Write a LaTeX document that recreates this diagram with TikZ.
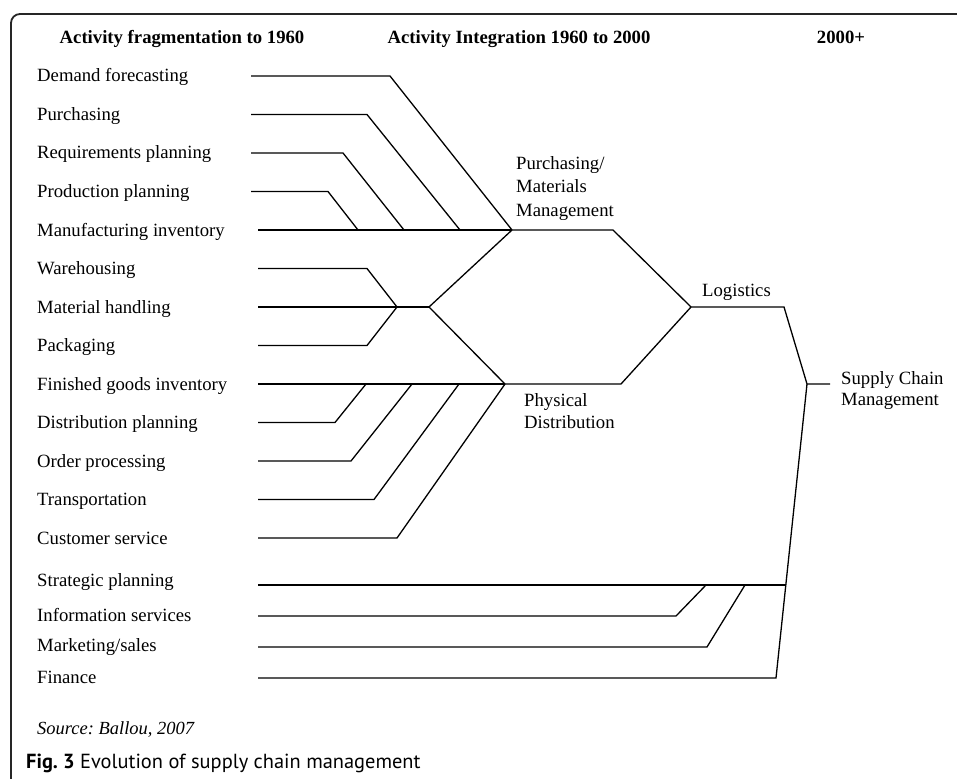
\documentclass[tikz,border=0pt]{standalone}
\usepackage{fontspec}
\setmainfont{Liberation Serif}
\newfontfamily\capfont{PT Sans}
\frenchspacing
\tikzset{
  lbl/.style={anchor=base west, inner sep=0pt, font=\fontsize{18.7}{22}\selectfont},
  hdr/.style={anchor=base, inner sep=0pt, font=\fontsize{18.7}{22}\selectfont\bfseries},
  ln/.style={line width=1.3pt, line join=miter},
  frm/.style={line width=1.8pt, draw=black!85, rounded corners=9pt},
}
\begin{document}
\begin{tikzpicture}[x=1pt,y=-1pt]
\useasboundingbox (0,0) rectangle (957,778);
% frame
\draw[frm] (11,782) -- (11,14) -- (975,14);

% headers
\node[hdr] (h1) at (182,44) {Activity fragmentation to 1960};
\node[hdr] (h2) at (519,44) {Activity Integration 1960 to 2000};
\node[hdr] (h3) at (841,44) {2000+};

% left labels
\node[lbl] (l1)  at (37,82)    {Demand forecasting};
\node[lbl] (l2)  at (37,120.5) {Purchasing};
\node[lbl] (l3)  at (37,159)   {Requirements planning};
\node[lbl] (l4)  at (37,197.5) {Production planning};
\node[lbl] (l5)  at (37,236)   {Manufacturing inventory};
\node[lbl] (l6)  at (37,274.5) {Warehousing};
\node[lbl] (l7)  at (37,313)   {Material handling};
\node[lbl] (l8)  at (37,351.5) {Packaging};
\node[lbl] (l9)  at (37,390)   {Finished goods inventory};
\node[lbl] (l10) at (37,428.5) {Distribution planning};
\node[lbl] (l11) at (37,467)   {Order processing};
\node[lbl] (l12) at (37,505.5) {Transportation};
\node[lbl] (l13) at (37,544)   {Customer service};
\node[lbl] (l14) at (37,586)   {Strategic planning};
\node[lbl] (l15) at (37,621)   {Information services};
\node[lbl] (l16) at (37,651)   {Marketing/sales};
\node[lbl] (l17) at (37,683)   {Finance};

% stage labels
\node[lbl] (pm1) at (516,170) {Purchasing/};
\node[lbl] (pm2) at (516,193) {Materials};
\node[lbl] (pm3) at (516,216) {Management};
\node[lbl] (pd1) at (524,406) {Physical};
\node[lbl] (pd2) at (524,428) {Distribution};
\node[lbl] (lg)  at (702,296) {Logistics};
\node[lbl] (sc1) at (841,384) {Supply Chain};
\node[lbl] (sc2) at (841,405) {Management};

% junctions
\coordinate (PM)   at (512,230);
\coordinate (PMR)  at (613,230);
\coordinate (WH)   at (397,307);
\coordinate (PMid) at (429,307);
\coordinate (PD)   at (505,384);
\coordinate (PDR)  at (621,384);
\coordinate (LG)   at (691,307);
\coordinate (LGR)  at (784,307);
\coordinate (SC)   at (807,384);
\coordinate (SCR)  at (830,384);
\coordinate (FB)   at (776,678);
\coordinate (ST)   at (785.5,585);

% start points
\coordinate (s1)  at (251,76);
\coordinate (s2)  at (251,114.5);
\coordinate (s3)  at (251,153);
\coordinate (s4)  at (251,191.5);
\coordinate (s5)  at (258,230);
\coordinate (s6)  at (258,268.5);
\coordinate (s7)  at (258,307);
\coordinate (s8)  at (258,345.5);
\coordinate (s9)  at (258,384);
\coordinate (s10) at (258,422.5);
\coordinate (s11) at (258,461);
\coordinate (s12) at (258,499.5);
\coordinate (s13) at (258,538);
\coordinate (s14) at (258,585);
\coordinate (s15) at (258,616);
\coordinate (s16) at (258,647);
\coordinate (s17) at (258,678);

% bends
\coordinate (b1)  at (390,76);
\coordinate (b2)  at (367,114.5);
\coordinate (b3)  at (343,153);
\coordinate (b4)  at (328,191.5);
\coordinate (j2)  at (460,230);
\coordinate (j3)  at (404,230);
\coordinate (j4)  at (358,230);
\coordinate (b6)  at (367,268.5);
\coordinate (b8)  at (367,345.5);
\coordinate (b10) at (335,422.5);
\coordinate (b11) at (351,461);
\coordinate (b12) at (374,499.5);
\coordinate (b13) at (397,538);
\coordinate (j10) at (366,384);
\coordinate (j11) at (412,384);
\coordinate (j12) at (459,384);
\coordinate (b15) at (676,616);
\coordinate (b16) at (707,647);
\coordinate (j15) at (706,585);
\coordinate (j16) at (745,585);

% purchasing / materials management group
\draw[ln] (s1) -- (b1) -- (PM);
\draw[ln] (s2) -- (b2) -- (j2);
\draw[ln] (s3) -- (b3) -- (j3);
\draw[ln] (s4) -- (b4) -- (j4);
\draw[ln] (s5) -- (PM);

% middle group
\draw[ln] (s6) -- (b6) -- (WH);
\draw[ln] (s7) -- (WH) -- (PMid);
\draw[ln] (s8) -- (b8) -- (WH);
\draw[ln] (PM) -- (PMid) -- (PD);

% physical distribution group
\draw[ln] (s9) -- (PD);
\draw[ln] (s10) -- (b10) -- (j10);
\draw[ln] (s11) -- (b11) -- (j11);
\draw[ln] (s12) -- (b12) -- (j12);
\draw[ln] (s13) -- (b13) -- (PD);

% logistics
\draw[ln] (PM) -- (PMR) -- (LG);
\draw[ln] (PD) -- (PDR) -- (LG);
\draw[ln] (LG) -- (LGR) -- (SC) -- (SCR);

% supply chain management group
\draw[ln] (SC) -- (FB) -- (s17);
\draw[ln] (s14) -- (ST);
\draw[ln] (s15) -- (b15) -- (j15);
\draw[ln] (s16) -- (b16) -- (j16);

% source and caption
\node[lbl, font=\fontsize{18.5}{22}\selectfont\itshape] (src) at (37,734) {Source: Ballou, 2007};
\node[anchor=base west, inner sep=0pt, font=\capfont\fontsize{20.4}{24}\selectfont] (cap) at (26,768) {\textbf{Fig. 3} Evolution of supply chain management};
\end{tikzpicture}
\end{document}
